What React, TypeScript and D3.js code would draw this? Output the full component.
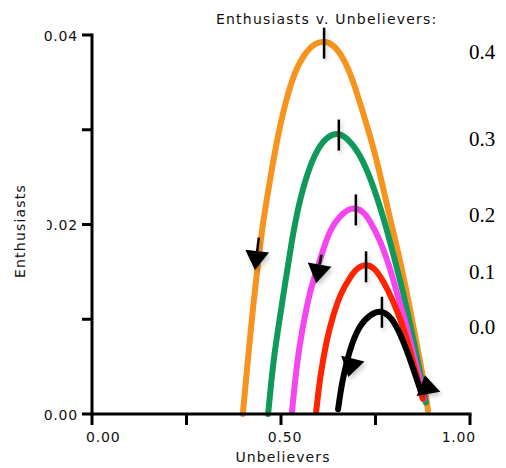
import React from 'react';
import * as d3 from 'd3';

// ---- data (Unbelievers u, Enthusiasts e) ----
const xTicks = [0, 0.25, 0.5, 0.75, 1];
const xTickLabels = ['0.00', '', '0.50', '', '1.00'];
const yTicks = [0, 0.01, 0.02, 0.03, 0.04];
const yTickLabels = ['0.00', '', '0.02', '', '0.04'];
const seriesNames = ['0.4', '0.3', '0.2', '0.1', '0.0'];
const seriesColors = ['#F7941E', '#0F9A5C', '#F645F0', '#FF2400', '#000000'];

const curve04: [number, number][] = [
  [0.399, 0.0], [0.413, 0.006], [0.426, 0.0113], [0.439, 0.0159], [0.452, 0.0202],
  [0.471, 0.0247], [0.489, 0.0289], [0.511, 0.0328], [0.537, 0.0363], [0.569, 0.0384],
  [0.59, 0.0391], [0.614, 0.0394], [0.638, 0.039], [0.664, 0.0377], [0.69, 0.0353],
  [0.717, 0.0318], [0.741, 0.0286], [0.762, 0.0254], [0.783, 0.0215], [0.807, 0.0176],
  [0.828, 0.0138], [0.847, 0.0099], [0.862, 0.0068], [0.876, 0.0039], [0.889, 0.0004],
];
const curve03: [number, number][] = [
  [0.466, 0.0], [0.479, 0.0054], [0.492, 0.0089], [0.511, 0.0138], [0.529, 0.0184],
  [0.545, 0.0218], [0.569, 0.0254], [0.595, 0.0279], [0.622, 0.0293], [0.653, 0.0297],
  [0.675, 0.0291], [0.701, 0.0279], [0.728, 0.0258], [0.754, 0.0229], [0.775, 0.0202],
  [0.796, 0.017], [0.82, 0.0134], [0.841, 0.0096], [0.86, 0.006], [0.873, 0.0033],
  [0.883, 0.0012],
];
const curve02: [number, number][] = [
  [0.529, 0.0002], [0.542, 0.0054], [0.556, 0.0089], [0.577, 0.0131], [0.595, 0.0152],
  [0.611, 0.0173], [0.63, 0.0195], [0.656, 0.0209], [0.677, 0.0216], [0.698, 0.0218],
  [0.72, 0.0213], [0.735, 0.0204], [0.762, 0.0184], [0.788, 0.0155], [0.81, 0.0123],
  [0.833, 0.0092], [0.849, 0.0064], [0.868, 0.0036], [0.878, 0.0016],
];
const curve01: [number, number][] = [
  [0.593, 0.0002], [0.603, 0.0039], [0.622, 0.0081], [0.638, 0.0104], [0.656, 0.0126],
  [0.683, 0.0145], [0.704, 0.0155], [0.725, 0.0158], [0.746, 0.0155], [0.77, 0.0141],
  [0.796, 0.012], [0.82, 0.0096], [0.841, 0.0068], [0.86, 0.0039], [0.875, 0.0016],
];
const curve00: [number, number][] = [
  [0.651, 0.0005], [0.661, 0.0033], [0.675, 0.0057], [0.688, 0.0075], [0.709, 0.0094],
  [0.735, 0.0105], [0.767, 0.011], [0.794, 0.0101], [0.815, 0.0085], [0.836, 0.0064],
  [0.854, 0.0043], [0.87, 0.0024],
];
const curves = [curve04, curve03, curve02, curve01, curve00];

// arrows: tip and tail points in data units
const arrowTipU = [0.431, 0.593, 0.678, 0.881];
const arrowTipE = [0.0152, 0.0138, 0.0039, 0.0041];
const arrowTailU = [0.44, 0.605, 0.696, 0.892];
const arrowTailE = [0.0182, 0.0164, 0.0068, 0.0017];
const arrowStem = [true, true, false, false];

// ---- layout ----
const W = 506;
const H = 468;
const x = d3.scaleLinear().domain([0, 1]).range([92, 470]);
const y = d3.scaleLinear().domain([0, 0.04]).range([414, 35]);
const labelY = [59, 146, 222, 279, 334];
const uiFont = "'DejaVu Sans', Verdana, sans-serif";

export default function App() {
  const line = d3
    .line<[number, number]>()
    .x((d) => x(d[0]))
    .y((d) => y(d[1]))
    .curve(d3.curveBasis);

  const peaks = curves.map((c) => c.reduce((a, b) => (b[1] > a[1] ? b : a)));

  const arrowShapes = arrowTipU.map((tu, i) => {
    const tx = x(tu);
    const ty = y(arrowTipE[i]);
    const sx = x(arrowTailU[i]);
    const sy = y(arrowTailE[i]);
    const dx = tx - sx;
    const dy = ty - sy;
    const len = Math.hypot(dx, dy);
    const ux = dx / len;
    const uy = dy / len;
    const L = 19;
    const hw = 12;
    const bx = tx - ux * L;
    const by = ty - uy * L;
    const p1 = [bx - uy * hw, by + ux * hw];
    const p2 = [bx + uy * hw, by - ux * hw];
    return {
      poly: `${tx},${ty} ${p1[0]},${p1[1]} ${p2[0]},${p2[1]}`,
      stem: arrowStem[i] ? { x1: sx - ux * 4, y1: sy - uy * 4, x2: bx, y2: by } : null,
    };
  });

  return (
    <svg
      width={W}
      height={H}
      style={{ position: 'absolute', left: 0, top: 0, display: 'block', background: '#fff' }}
    >
      <defs>
        <filter id="sh" filterUnits="userSpaceOnUse" x={0} y={0} width={W} height={H}>
          <feDropShadow dx="2" dy="3" stdDeviation="2" floodColor="#000" floodOpacity="0.2" />
        </filter>
      </defs>
      <rect width={W} height={H} fill="#fff" />

      {/* title */}
      <text x={216} y={24} fontFamily={uiFont} fontSize={14} letterSpacing={1.2} fill="#111">
        Enthusiasts v. Unbelievers:
      </text>

      {/* curves */}
      {curves.map((c, i) => (
        <path
          key={i}
          d={line(c) || ''}
          fill="none"
          stroke={seriesColors[i]}
          strokeWidth={6}
          strokeLinecap="round"
          strokeLinejoin="round"
        />
      ))}

      {/* peak markers */}
      {peaks.map((p, i) => (
        <line
          key={i}
          x1={x(p[0])}
          x2={x(p[0])}
          y1={y(p[1]) - 13}
          y2={y(p[1]) + 18}
          stroke="#000"
          strokeWidth={2.5}
          filter="url(#sh)"
        />
      ))}

      {/* arrows */}
      {arrowShapes.map((a, i) => (
        <g key={i} filter="url(#sh)">
          {a.stem && (
            <line x1={a.stem.x1} y1={a.stem.y1} x2={a.stem.x2} y2={a.stem.y2} stroke="#000" strokeWidth={2.5} />
          )}
          <polygon points={a.poly} fill="#000" />
        </g>
      ))}

      {/* axes */}
      <line x1={x(0)} x2={x(0)} y1={y(0.04) - 1.5} y2={y(0) + 1.5} stroke="#000" strokeWidth={3} />
      <line x1={x(0) - 1.5} x2={x(1) + 1.5} y1={y(0)} y2={y(0)} stroke="#000" strokeWidth={3} />
      {yTicks.map((t, i) => (
        <g key={i}>
          <line x1={x(0) - 10} x2={x(0)} y1={y(t)} y2={y(t)} stroke="#000" strokeWidth={3} />
          {yTickLabels[i] && (
            <text
              x={78}
              y={y(t) + 5.5}
              textAnchor="end"
              fontFamily={uiFont}
              fontSize={14}
              letterSpacing={0.8}
              fill="#111"
            >
              {yTickLabels[i]}
            </text>
          )}
        </g>
      ))}
      {xTicks.map((t, i) => (
        <g key={i}>
          <line x1={x(t)} x2={x(t)} y1={y(0)} y2={y(0) + 11} stroke="#000" strokeWidth={3} />
          {xTickLabels[i] && (
            <text
              x={i === 0 ? x(t) - 6 : i === xTicks.length - 1 ? x(t) + 6 : x(t) + 4}
              y={442}
              textAnchor={i === 0 ? 'start' : i === xTicks.length - 1 ? 'end' : 'middle'}
              fontFamily={uiFont}
              fontSize={14}
              letterSpacing={0.8}
              fill="#111"
            >
              {xTickLabels[i]}
            </text>
          )}
        </g>
      ))}

      {/* occluding box of the y title */}
      <rect x={0} y={185} width={47} height={92} fill="#fff" />
      <text
        transform="translate(25,231) rotate(-90)"
        textAnchor="middle"
        fontFamily={uiFont}
        fontSize={14}
        letterSpacing={1.2}
        fill="#111"
      >
        Enthusiasts
      </text>
      <text x={283} y={462} textAnchor="middle" fontFamily={uiFont} fontSize={14} letterSpacing={1.1} fill="#111">
        Unbelievers
      </text>

      {/* right-side parameter labels */}
      {seriesNames.map((n, i) => (
        <text
          key={i}
          x={469}
          y={labelY[i]}
          fontFamily="'Liberation Serif', 'Times New Roman', serif"
          fontSize={21}
          fill="#000"
        >
          {n}
        </text>
      ))}
    </svg>
  );
}
